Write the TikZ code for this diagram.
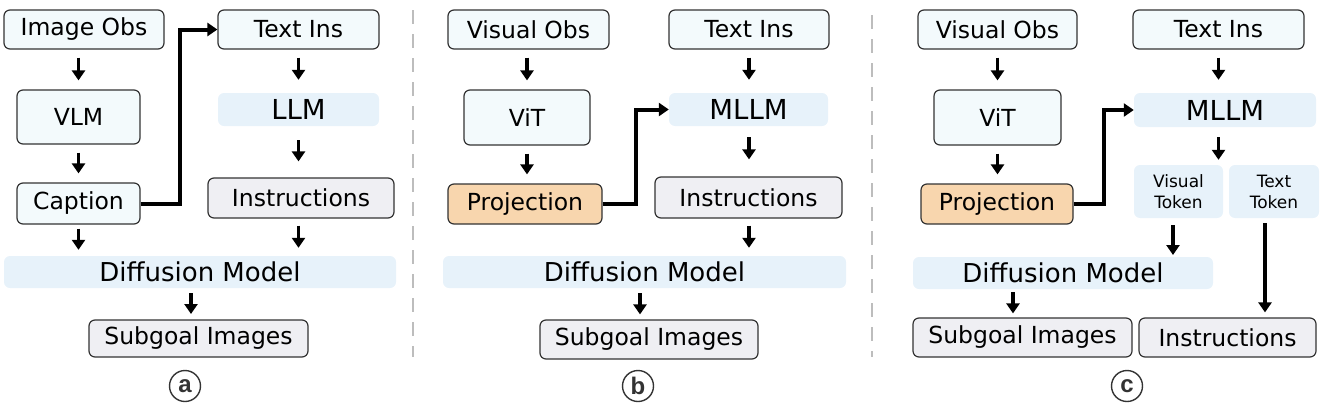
\documentclass[tikz,border=0pt]{standalone}
\usepackage{fontspec}
\setmainfont{DejaVu Sans}
\newfontfamily\lblfont{Liberation Sans}
\usetikzlibrary{arrows.meta}

\definecolor{obsfill}{HTML}{F3FAFC}
\definecolor{bandfill}{HTML}{E7F2FA}
\definecolor{grayfill}{HTML}{EFEFF3}
\definecolor{projfill}{HTML}{F8D6AE}
\definecolor{edge}{HTML}{333333}
\definecolor{divgray}{HTML}{BDBDBD}

\tikzset{
  obs/.style={draw=edge,line width=1.2pt,fill=obsfill,rounded corners=6pt,inner sep=0pt,font=\fontsize{23.5}{27}\selectfont},
  graybox/.style={obs,fill=grayfill},
  projbox/.style={obs,fill=projfill},
  band/.style={fill=bandfill,rounded corners=6pt,inner sep=0pt,font=\fontsize{26}{30}\selectfont},
  bigband/.style={band,font=\fontsize{27.5}{31}\selectfont},
  tokband/.style={band,align=center,font=\fontsize{17}{21}\selectfont},
  arr/.style={line width=3.2pt,-{Triangle[width=13pt,length=10pt]},shorten <=8pt,shorten >=9pt},
  link/.style={line width=4pt,-{Triangle[width=13pt,length=10pt]}},
  tag/.style={circle,draw=edge,line width=1.4pt,inner sep=0pt,minimum size=31pt,font=\lblfont\bfseries\fontsize{24}{24}\selectfont,text=edge},
  divider/.style={divgray,line width=2.6pt,dash pattern=on 14pt off 10pt}
}

\begin{document}
\begin{tikzpicture}[x=1pt,y=-1pt]
\useasboundingbox (0,0) rectangle (1320,402);

% panel (a)
\node[obs,minimum width=160pt,minimum height=39pt] (ioa) at (84,29.5) {Image Obs};
\node[obs,minimum width=123pt,minimum height=54pt] (vlm) at (78.5,117) {VLM};
\node[obs,minimum width=123pt,minimum height=41pt] (cap) at (78.5,203.5) {Caption};
\node[obs,minimum width=161pt,minimum height=39pt] (tia) at (298.5,29.5) {Text Ins};
\node[bigband,minimum width=161pt,minimum height=33pt] (llm) at (298.5,109.5) {LLM};
\node[graybox,minimum width=186pt,minimum height=40pt] (insa) at (301,198) {Instructions};
\node[band,minimum width=392pt,minimum height=32pt] (diffa) at (200,272) {Diffusion Model};
\node[graybox,minimum width=219pt,minimum height=37pt] (suba) at (198.5,338.5) {Subgoal Images};
\node[tag] (taga) at (185,386) {a};

\draw[arr] (ioa.south -| vlm.north) -- (vlm.north);
\draw[arr] (vlm) -- (cap);
\draw[arr,shorten <=4pt,shorten >=6pt] (cap.south) -- (cap.south |- diffa.north);
\draw[arr,shorten <=5pt,shorten >=6pt] (191,288) -- (191,320);
\draw[arr,shorten >=13pt] (tia) -- (tia.south |- llm.north);
\draw[arr,shorten <=14pt,shorten >=16pt] (tia.south |- llm.south) -- (tia.south |- insa.north);
\draw[arr,shorten <=7pt,shorten >=8pt] (tia.south |- insa.south) -- (tia.south |- diffa.north);
\draw[link] (cap.east) -- ++(39,0) |- (tia.west);

\draw[divider] (413,10) -- (413,357);

% panel (b)
\node[obs,minimum width=161pt,minimum height=39pt] (vob) at (528.5,29.5) {Visual Obs};
\node[obs,minimum width=126pt,minimum height=55pt] (vitb) at (527,117.5) {ViT};
\node[projbox,minimum width=154pt,minimum height=40pt] (projb) at (525,204) {Projection};
\node[obs,minimum width=160pt,minimum height=39pt] (tib) at (749,29.5) {Text Ins};
\node[bigband,minimum width=159pt,minimum height=33pt] (mllmb) at (748.5,109.5) {MLLM};
\node[graybox,minimum width=187pt,minimum height=41pt] (insb) at (748.5,197.5) {Instructions};
\node[band,minimum width=403pt,minimum height=32pt] (diffb) at (644.5,272) {Diffusion Model};
\node[graybox,minimum width=218pt,minimum height=39pt] (subb) at (649,339.5) {Subgoal Images};
\node[tag] (tagb) at (638,386) {b};

\draw[arr] (vob.south -| vitb.north) -- (vitb.north);
\draw[arr] (vitb) -- (vitb.south |- projb.north);
\draw[arr,shorten >=13pt] (tib) -- (tib.south |- mllmb.north);
\draw[arr,shorten <=11pt,shorten >=17pt] (tib.south |- mllmb.south) -- (tib.south |- insb.north);
\draw[arr,shorten <=7pt,shorten >=8pt] (tib.south |- insb.south) -- (tib.south |- diffb.north);
\draw[arr,shorten <=5pt,shorten >=5pt] (640,288) -- (subb.north -| 640,0);
\draw[link] (projb.east) -- ++(33,0) |- (mllmb.west);

\draw[divider] (872,15) -- (872,357);

% panel (c)
\node[obs,minimum width=159pt,minimum height=39pt] (voc) at (997.5,29.5) {Visual Obs};
\node[obs,minimum width=127pt,minimum height=55pt] (vitc) at (997.5,117.5) {ViT};
\node[projbox,minimum width=152pt,minimum height=40pt] (projc) at (997,204) {Projection};
\node[obs,minimum width=171pt,minimum height=39pt] (tic) at (1218.5,29.5) {Text Ins};
\node[bigband,minimum width=182pt,minimum height=34pt] (mllmc) at (1225,110) {MLLM};
\node[tokband,minimum width=89pt,minimum height=53pt] (vtok) at (1178.5,191.5) {Visual\\Token};
\node[tokband,minimum width=90pt,minimum height=53pt] (ttok) at (1274,191.5) {Text\\Token};
\node[band,minimum width=300pt,minimum height=32pt] (diffc) at (1063,273) {Diffusion Model};
\node[graybox,minimum width=219pt,minimum height=39pt] (subc) at (1022.5,337.5) {Subgoal Images};
\node[graybox,minimum width=177pt,minimum height=39pt] (insc) at (1227.5,337.5) {Instructions};
\node[tag] (tagc) at (1127,386) {c};

\draw[arr] (voc) -- (voc.south |- vitc.north);
\draw[arr] (vitc) -- (vitc.south |- projc.north);
\draw[arr,shorten >=13pt] (tic) -- (tic.south |- mllmc.north);
\draw[arr,shorten <=10pt,shorten >=5pt] (tic.south |- mllmc.south) -- (tic.south |- vtok.north);
\draw[arr,shorten <=7pt,shorten >=2pt] (1173,218) -- (1173,257);
\draw[arr,shorten <=5pt,shorten >=5pt] (ttok.south -| 1265,0) -- (insc.north -| 1265,0);
\draw[arr,shorten <=3pt,shorten >=4pt] (1013,289) -- (subc.north -| 1013,0);
\draw[link] (projc.east) -- ++(30,0) |- (mllmc.west);
\end{tikzpicture}
\end{document}
